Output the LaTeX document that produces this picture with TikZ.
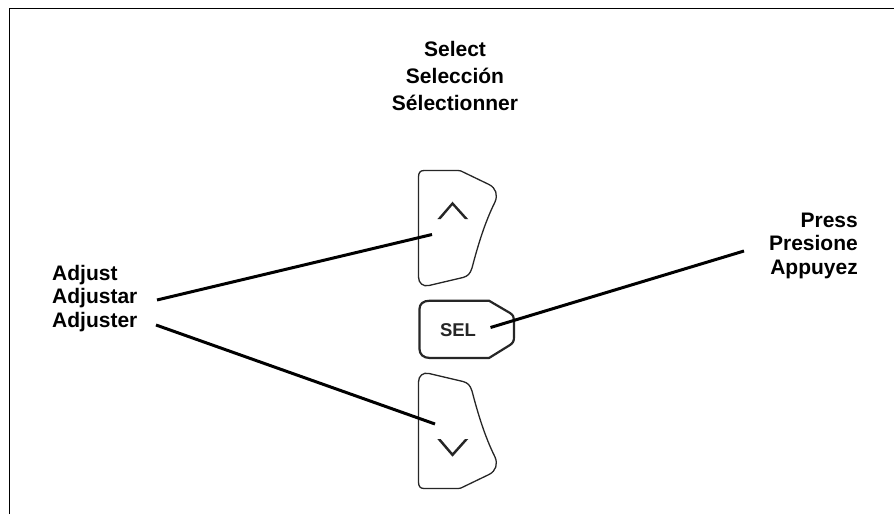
\documentclass[tikz,border=0pt]{standalone}
\usepackage{fontspec}
\setmainfont{Liberation Sans}
\tikzset{
  px/.style={x=1pt,y=-1pt},
  lbl/.style={font=\fontsize{21}{27}\selectfont\bfseries,align=center,inner sep=0pt,text=black},
  lblb/.style={font=\fontsize{21}{23.5}\selectfont\bfseries,inner sep=0pt,text=black},
  thinkey/.style={draw=black!85,line width=1.3pt,line join=round},
  leader/.style={draw=black,line width=3pt},
  chev/.style={fill=black!85,draw=none},
}
\begin{document}
\begin{tikzpicture}[px]
\useasboundingbox (0,0) rectangle (894,514);
\fill[white] (0,0) rectangle (894,514);
\draw[black,line width=1.4pt] (9.3,514) -- (9.3,8.3) -- (894,8.3);
\node[lbl,anchor=base] (select) at (455,110) {Select\\Selección\\Sélectionner};
\node[lblb,align=left,anchor=base west] (adjust) at (52,327) {Adjust\\Adjustar\\Adjuster};
\node[lblb,align=right,anchor=base east] (press) at (858,274) {Press\\Presione\\Appuyez};
% up key
\draw[thinkey] (424,170.5) -- (458,170.5) .. controls (460,170.5) and (461,171) .. (462,171.5)
  -- (489,184.5) .. controls (496,188) and (498,195) .. (495,202)
  .. controls (485,222) and (478,245) .. (472,268)
  .. controls (470,274) and (468,276) .. (463,277.5)
  -- (429,285.5) .. controls (423,287) and (418.5,283) .. (418.5,277)
  -- (418.5,177) .. controls (418.5,173) and (420,170.5) .. (424,170.5) -- cycle;
% down key
\draw[thinkey] (424,488.5) -- (458,488.5) .. controls (460,488.5) and (461,488) .. (462,487.5)
  -- (489,474.5) .. controls (496,471) and (498,464) .. (495,457)
  .. controls (485,437) and (478,414) .. (472,391)
  .. controls (470,385) and (468,383) .. (463,381.5)
  -- (429,373.5) .. controls (423,372) and (418.5,376) .. (418.5,382)
  -- (418.5,482) .. controls (418.5,486) and (420,488.5) .. (424,488.5) -- cycle;
% sel key
\draw[draw=black!85,line width=2.2pt,line join=round] (430,300.7) -- (489,300.7)
  -- (510,313) .. controls (513,315) and (514,317) .. (514,320)
  -- (514,337) .. controls (514,341) and (513,343) .. (510,345)
  -- (489,358) -- (430,358) .. controls (423,358) and (419.5,354) .. (419.5,349)
  -- (419.5,309) .. controls (419.5,304) and (423,300.7) .. (430,300.7) -- cycle;
\node[font=\fontsize{18.5}{20}\selectfont\bfseries,inner sep=0pt,text=black!85,anchor=base] (sel) at (458,336) {SEL};
% chevrons, flat-cut ends
\fill[chev] (437.3,219.2) -- (452.5,201.7) -- (468.3,219.2) -- (465,219.2) -- (452.5,205.2) -- (440.6,219.2) -- cycle;
\fill[chev] (437.3,439) -- (452.5,456.7) -- (468.3,439) -- (465,439) -- (452.5,453) -- (440.6,439) -- cycle;
% leaders
\coordinate (u) at (432,234.5);
\coordinate (d) at (435,424);
\coordinate (s) at (490.5,327.5);
\coordinate (a1) at (157,300);
\coordinate (a2) at (156,325);
\coordinate (p1) at (744,251);
\draw[leader] (a1) -- (u);
\draw[leader] (a2) -- (d);
\draw[leader] (p1) -- (s);
\end{tikzpicture}
\end{document}
